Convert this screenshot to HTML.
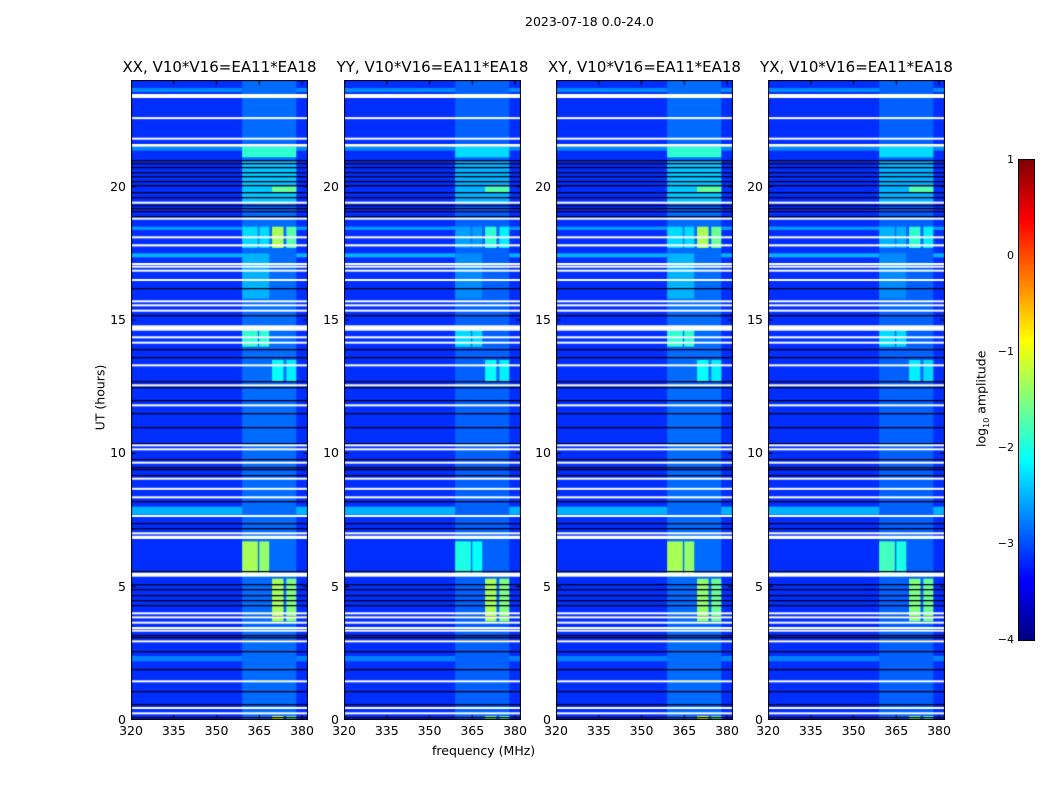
<!DOCTYPE html>
<html><head><meta charset="utf-8">
<style>
body{margin:0;background:#fff;width:1050px;height:800px;position:relative;overflow:hidden;font-family:"DejaVu Sans","Liberation Sans",sans-serif;color:#000}
.abs{position:absolute;white-space:nowrap}
.panel{position:absolute;top:80px;width:177px;height:640px;border:1px solid #000;box-sizing:border-box}
canvas{position:absolute}
.t{font-size:15px}
.tk{font-size:12.5px}
</style></head><body>
<div class="abs" style="left:525px;top:14px;font-size:12.5px">2023-07-18 0.0-24.0</div>
<div class="abs" style="left:50px;top:390px;width:100px;text-align:center;font-size:12.5px;transform:rotate(-90deg)">UT (hours)</div>
<div class="abs" style="left:432px;top:743px;font-size:12.5px">frequency (MHz)</div>
<div id="root"></div>
<canvas id="cbar" width="15" height="480" style="left:1019px;top:160px;outline:1px solid #000"></canvas>
<div class="abs" style="left:922px;top:390px;width:120px;text-align:center;font-size:12.5px;transform:rotate(-90deg)">log<sub style="font-size:8px">10</sub> amplitude</div>
<script>
const titles=["XX, V10*V16=EA11*EA18","YY, V10*V16=EA11*EA18","XY, V10*V16=EA11*EA18","YX, V10*V16=EA11*EA18"];
const panelLefts=[131,344,556,768];
const yTicks=[0,5,10,15,20];
const xTicks=[320,335,350,365,380];
const cbTicks=[1,0,-1,-2,-3,-4];
const baseLevel=-3.15;
// [t0,t1,f0,f1]
const featBox=[[5.5,6.7,359,364.5],[5.5,6.7,365,368.5],[3.7,5.3,369.5,373.5],[3.7,5.3,374.5,378],[0,0.15,369.5,373.5],[0,0.15,374.5,378],[14.0,14.7,359,364.5],[14.0,14.7,365,368.5],[12.7,13.5,369.5,373.5],[12.7,13.5,374.5,378],[17.7,18.5,369.5,373.5],[17.7,18.5,374.5,378],[17.7,18.5,359,364.5],[17.7,18.5,365,368.5],[15.8,17.5,359,368.5],[19.4,21.0,359,378],[21.1,21.5,359,378],[19.8,20.0,369.5,378],[0,24,359,378]];
const featXX=[-1.3,-1.4,-1.3,-1.5,-1.0,-1.6,-1.9,-1.9,-2.1,-2.2,-1.3,-1.7,-2.3,-2.3,-2.5,-2.4,-1.9,-1.6,-2.85];
const featYY=[-2.0,-2.1,-1.3,-1.5,-1.5,-1.8,-2.3,-2.3,-2.1,-2.2,-1.9,-2.2,-2.6,-2.6,-2.7,-2.5,-2.3,-1.7,-2.9];
const featXY=[-1.3,-1.4,-1.4,-1.6,-1.0,-1.6,-1.9,-1.9,-2.1,-2.2,-1.3,-1.6,-2.3,-2.3,-2.5,-2.4,-1.9,-1.6,-2.85];
const featYX=[-1.8,-2.0,-1.5,-1.6,-1.5,-1.8,-2.3,-2.3,-2.2,-2.3,-1.9,-2.2,-2.5,-2.5,-2.7,-2.5,-2.3,-1.7,-2.9];
const featLevels=[featXX,featYY,featXY,featYX];
// full-width bright rows [t0,t1,level]
const brightRows=[[7.7,8.0,-2.5],[18.38,18.5,-2.6],[17.35,17.5,-2.5],[2.2,2.4,-2.75],[23.55,23.7,-2.7],[21.35,21.5,-2.7]];
// white gaps [center, thickness]
const whiteGaps=[[23.4,0.15],[22.57,0.05],[21.8,0.05],[21.55,0.1],[19.4,0.05],[18.8,0.05],[18.1,0.05],[17.8,0.08],[17.1,0.04],[17.0,0.04],[16.85,0.04],[16.5,0.05],[15.7,0.04],[15.55,0.04],[15.35,0.04],[14.7,0.2],[14.35,0.04],[14.15,0.04],[13.3,0.04],[12.55,0.06],[11.8,0.05],[10.3,0.05],[10.15,0.05],[9.65,0.05],[9.05,0.05],[8.67,0.05],[8.35,0.05],[7.65,0.05],[7.0,0.05],[6.85,0.12],[5.45,0.15],[4.0,0.04],[3.85,0.04],[3.65,0.04],[3.45,0.05],[3.35,0.05],[2.95,0.05],[1.45,0.05],[0.45,0.05],[0.25,0.05]];
const darkLines=[21.0,20.9,20.75,20.55,20.4,20.2,20.05,19.8,19.6,19.3,19.2,19.1,18.9,16.2,15.2,13.9,13.6,12.7,12.5,12.0,11.5,11.0,10.4,9.8,9.5,9.4,9.2,8.2,7.4,7.2,5.6,5.1,4.9,4.7,4.5,4.3,3.9,3.2,3.1,3.0,2.6,1.9,1.1,0.6,0.1];

const W=177,H=640,FMIN=320,FMAX=382.1,TMIN=0,TMAX=24,VMIN=-4,VMAX=1;
const xs=f=>(f-FMIN)/(FMAX-FMIN)*W;
const ys=t=>H-(t-TMIN)/(TMAX-TMIN)*H;
function jet(v){let n=Math.max(0,Math.min(1,(v-VMIN)/(VMAX-VMIN)));
 const c=x=>Math.round(255*Math.max(0,Math.min(1,x)));
 return [c(1.5-Math.abs(4*n-3)),c(1.5-Math.abs(4*n-2)),c(1.5-Math.abs(4*n-1))];}
const root=document.getElementById('root');
panelLefts.forEach((L,p)=>{
 const d=document.createElement('div');d.className='panel';d.style.left=L+'px';
 
 
 root.appendChild(d);
 const cv=document.createElement('canvas');cv.width=W;cv.height=H;cv.style.left=(L)+'px';cv.style.top='80px';
 
 
 root.appendChild(cv);
 const ctx=cv.getContext('2d');
 ctx.fillStyle='rgb('+jet(baseLevel).join(',')+')';ctx.fillRect(0,0,W,H);
 brightRows.forEach(r=>{ctx.fillStyle='rgb('+jet(r[2]).join(',')+')';ctx.fillRect(0,ys(r[1]),W,ys(r[0])-ys(r[1]));});
 const lv=featLevels[p];
 const order=featBox.map((b,i)=>i).sort((a,b)=>lv[a]-lv[b]);
 order.forEach(i=>{const b=featBox[i];ctx.fillStyle='rgb('+jet(lv[i]).join(',')+')';
  ctx.fillRect(xs(b[2]),ys(b[1]),xs(b[3])-xs(b[2]),ys(b[0])-ys(b[1]));});
 darkLines.forEach(t=>{ctx.fillStyle='rgb(0,0,30)';ctx.fillRect(0,Math.round(ys(t)),W,1.3);});
 whiteGaps.forEach(g=>{ctx.fillStyle='#fff';const h=Math.max(2,g[1]/24*H);ctx.fillRect(0,ys(g[0])-h/2,W,h);});
 ctx.strokeStyle='#000';ctx.lineWidth=1;ctx.strokeRect(0.5,0.5,W-1,H-1);
 const tt=document.createElement('div');tt.className='abs t';tt.textContent=titles[p];
 tt.style.left=(L+W/2-110)+'px';tt.style.width='220px';tt.style.textAlign='center';tt.style.top='58px';
 
 
 root.appendChild(tt);
 yTicks.forEach(v=>{const e=document.createElement('div');e.className='abs tk';e.textContent=v;
  e.style.left=(L-40)+'px';e.style.width='35px';e.style.textAlign='right';e.style.top=(80+ys(v)-8)+'px';
  
  
  root.appendChild(e);
  ctx.fillStyle='#000';ctx.fillRect(0,ys(v)-0.5,5,1);ctx.fillRect(W-5,ys(v)-0.5,5,1);});
 xTicks.forEach(v=>{const e=document.createElement('div');e.className='abs tk';e.textContent=v;
  e.style.left=(L+xs(v)-20)+'px';e.style.width='40px';e.style.textAlign='center';e.style.top='723px';
  
  
  root.appendChild(e);
  ctx.fillStyle='#000';ctx.fillRect(xs(v)-0.5,0,1,5);ctx.fillRect(xs(v)-0.5,H-5,1,5);});
});
const cb=document.getElementById('cbar').getContext('2d');
for(let y=0;y<480;y++){const v=VMAX-(y/480)*(VMAX-VMIN);cb.fillStyle='rgb('+jet(v).join(',')+')';cb.fillRect(0,y,15,1);}
cbTicks.forEach(v=>{const y=160+(VMAX-v)/(VMAX-VMIN)*480;
 const e=document.createElement('div');e.className='abs';e.style.fontSize='11px';
 e.textContent=v<0?'\u2212'+(-v):v;e.style.left='984px';e.style.width='30px';e.style.textAlign='right';e.style.top=(y-7)+'px';
 
 
 root.appendChild(e);});
</script>
</body></html>
